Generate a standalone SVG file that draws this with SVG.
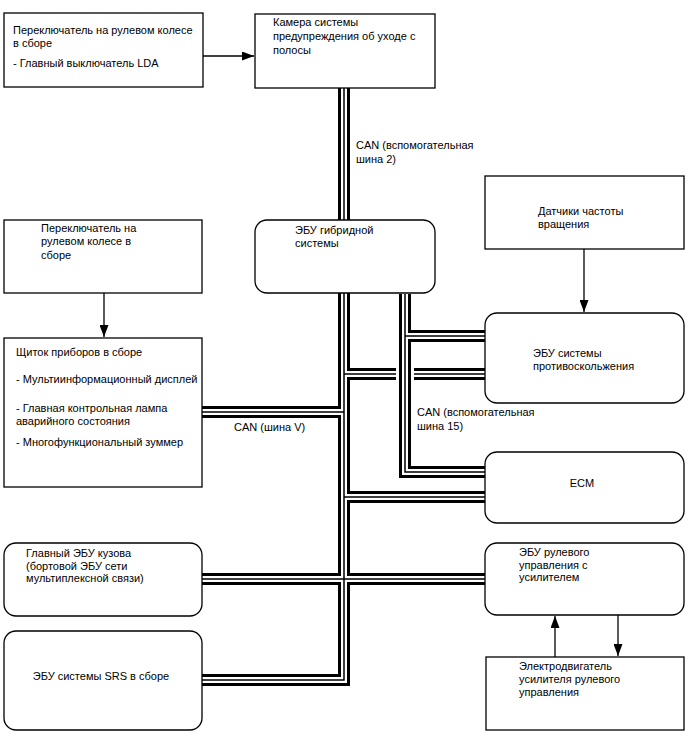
<svg xmlns="http://www.w3.org/2000/svg" xmlns:xlink="http://www.w3.org/1999/xlink" width="688" height="755" viewBox="0 0 688 755">
<style>
text{font-family:"Liberation Sans",Arial,sans-serif;font-size:11px;fill:#000}
.box{fill:#fff;stroke:#000;stroke-width:1.3}
.arr{stroke:#000;stroke-width:1.3;fill:none;marker-end:url(#ah)}
.c0{fill:none;stroke:#fff;stroke-width:18}
.c1{fill:none;stroke:#000;stroke-width:12}
.c2{fill:none;stroke:#fff;stroke-width:6}
.c3{fill:none;stroke:#000;stroke-width:1.5}
</style>
<defs>
<marker id="ah" markerUnits="userSpaceOnUse" markerWidth="12" markerHeight="9" refX="12" refY="4.5" orient="auto">
<path d="M0,0 L12,4.5 L0,9 z" fill="#000"/>
</marker>
<path id="bus2" d="M344,88 V220"/>
<path id="busV" d="M344,293 V680 H202 M344,374 H485 M344,412 H202 M344,497 H485 M202,579 H485"/>
<path id="bus15" d="M405,294 V472 H485 M405,336 H485"/>
</defs>
<g id="connectors">
<use xlink:href="#bus2" class="c1"/><use xlink:href="#bus2" class="c2"/><use xlink:href="#bus2" class="c3"/>
<use xlink:href="#busV" class="c1"/><use xlink:href="#busV" class="c2"/><use xlink:href="#busV" class="c3"/>
<use xlink:href="#bus15" class="c0"/><use xlink:href="#bus15" class="c1"/><use xlink:href="#bus15" class="c2"/><use xlink:href="#bus15" class="c3"/>
<line class="arr" x1="203" y1="56" x2="254" y2="56"/>
<line class="arr" x1="104" y1="293" x2="104" y2="337"/>
<line class="arr" x1="584" y1="249" x2="584" y2="312"/>
<line class="arr" x1="555" y1="657" x2="555" y2="616"/>
<line class="arr" x1="618" y1="615" x2="618" y2="656"/>
<text x="356" y="149">CAN (вспомогательная</text>
<text x="356" y="163">шина 2)</text>
<text x="234" y="431">CAN (шина V)</text>
<text x="417" y="416">CAN (вспомогательная</text>
<text x="417" y="430">шина 15)</text>
</g>
<g id="steering-switch-lda">
<rect class="box" x="4" y="13" width="199" height="74"/>
<text x="13" y="34">Переключатель на рулевом колесе</text>
<text x="13" y="47">в сборе</text>
<text x="13" y="67">- Главный выключатель LDA</text>
</g>
<g id="camera">
<rect class="box" x="255" y="14" width="180" height="74"/>
<text x="273" y="26">Камера системы</text>
<text x="273" y="40">предупреждения об уходе с</text>
<text x="273" y="54">полосы</text>
</g>
<g id="hybrid-ecu">
<rect class="box" x="255" y="220" width="180" height="73" rx="12"/>
<text x="295" y="234">ЭБУ гибридной</text>
<text x="295" y="247">системы</text>
</g>
<g id="speed-sensors">
<rect class="box" x="485" y="176" width="199" height="73"/>
<text x="538" y="215">Датчики частоты</text>
<text x="538" y="228">вращения</text>
</g>
<g id="steering-switch">
<rect class="box" x="4" y="220" width="198" height="73"/>
<text x="41" y="232">Переключатель на</text>
<text x="41" y="245">рулевом колесе в</text>
<text x="41" y="259">сборе</text>
</g>
<g id="skid-ecu">
<rect class="box" x="485" y="313" width="199" height="90" rx="12"/>
<text x="533" y="357">ЭБУ системы</text>
<text x="533" y="370">противоскольжения</text>
</g>
<g id="cluster">
<rect class="box" x="4" y="338" width="198" height="149"/>
<text x="16" y="356">Щиток приборов в сборе</text>
<text x="16" y="383">- Мультиинформационный дисплей</text>
<text x="16" y="412">- Главная контрольная лампа</text>
<text x="16" y="425">аварийного состояния</text>
<text x="16" y="446">- Многофункциональный зуммер</text>
</g>
<g id="ecm">
<rect class="box" x="485" y="452" width="199" height="71" rx="12"/>
<text x="582" y="487" text-anchor="middle">ECM</text>
</g>
<g id="body-ecu">
<rect class="box" x="4" y="543" width="198" height="73" rx="12"/>
<text x="26" y="557">Главный ЭБУ кузова</text>
<text x="26" y="570">(бортовой ЭБУ сети</text>
<text x="26" y="582">мультиплексной связи)</text>
</g>
<g id="eps-ecu">
<rect class="box" x="485" y="543" width="199" height="72" rx="12"/>
<text x="519" y="556">ЭБУ рулевого</text>
<text x="519" y="569">управления с</text>
<text x="519" y="581">усилителем</text>
</g>
<g id="srs-ecu">
<rect class="box" x="4" y="631" width="198" height="99" rx="12"/>
<text x="101" y="680" text-anchor="middle">ЭБУ системы SRS в сборе</text>
</g>
<g id="eps-motor">
<rect class="box" x="486" y="657" width="198" height="73"/>
<text x="519" y="670">Электродвигатель</text>
<text x="519" y="683">усилителя рулевого</text>
<text x="519" y="696">управления</text>
</g>
</svg>
